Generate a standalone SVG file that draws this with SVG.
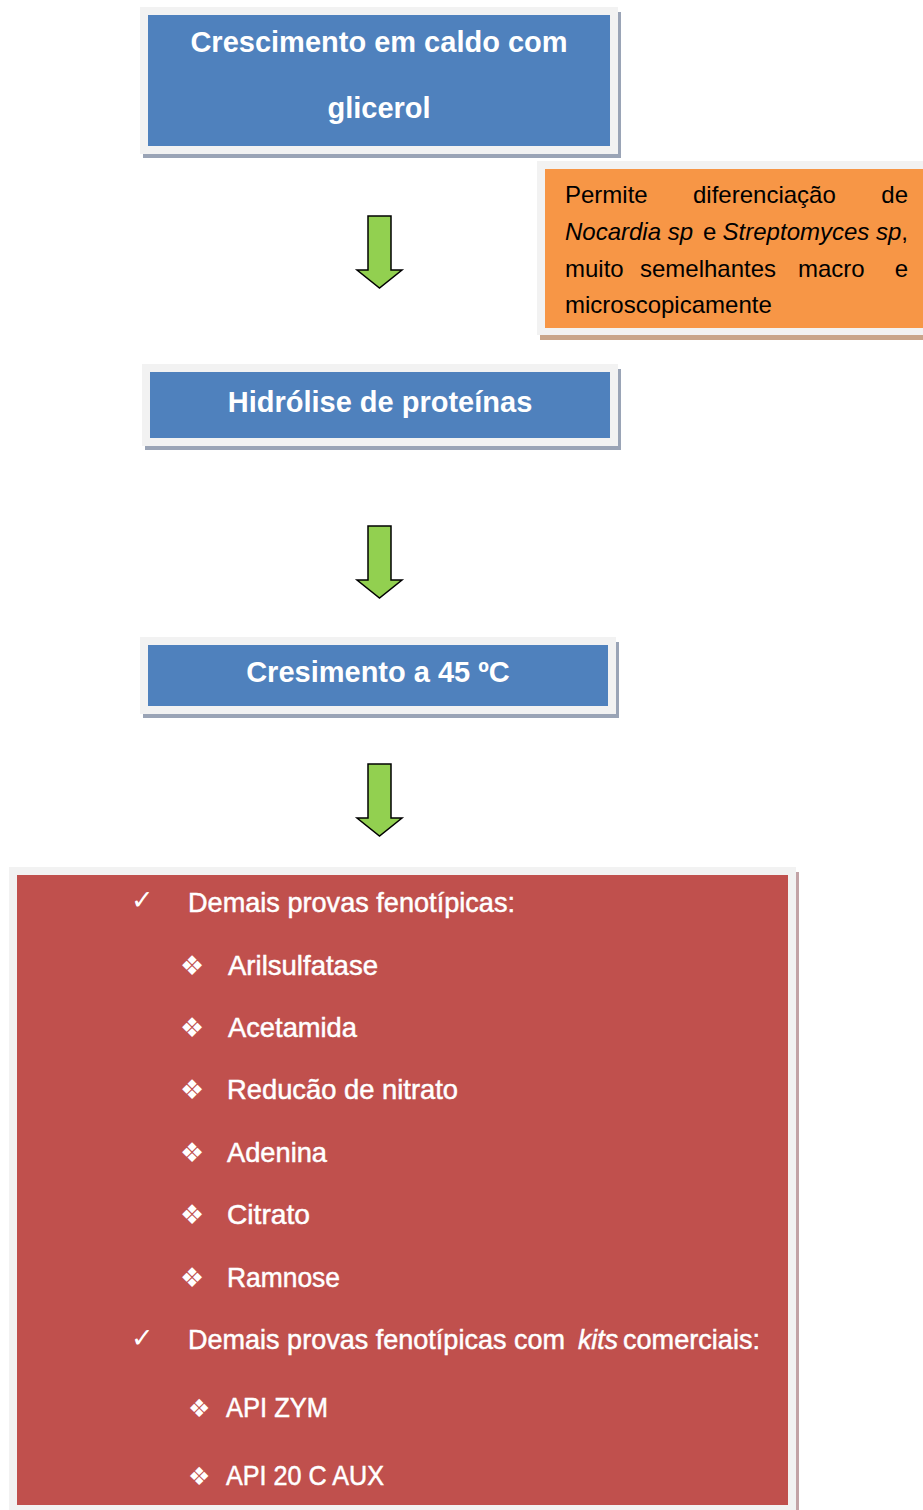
<svg xmlns="http://www.w3.org/2000/svg" width="923" height="1510" viewBox="0 0 923 1510">
<style>
.frame{fill:#f2f2f2}
.blue{fill:#4f81bd}
.orange{fill:#f79646}
.red{fill:#c0504d}
.shb{fill:#9aa4b6}
.sho{fill:#c9a58a}
.shr{fill:#c2a3a6}
.bt{font-family:"Liberation Sans",Arial,sans-serif;font-weight:bold;font-size:29px;fill:#fff;text-anchor:middle}
.ot{font-family:"Liberation Sans",Arial,sans-serif;font-size:24px;fill:#000}
.rt{font-family:"Liberation Sans Narrow","Liberation Sans",Arial,sans-serif;font-size:28px;fill:#fff;stroke:#fff;stroke-width:0.5}
.sym{font-family:"DejaVu Sans",sans-serif;fill:#fff}
.arrow{fill:#92d050;stroke:#000;stroke-width:1.5;stroke-linejoin:miter}
</style>
<defs>
<path id="arr" d="M368,0 H391 V54 H402 L379.5,72 L357,54 H368 Z"/>
</defs>
<rect width="923" height="1510" fill="#fff"/>

<g id="node-crescimento-glicerol">
<rect class="shb" x="143" y="12" width="478" height="146"/>
<rect class="frame" x="140" y="7" width="478" height="147"/>
<rect class="blue" x="148" y="15" width="462" height="131"/>
<text class="bt" x="379" y="52">Crescimento em caldo com</text>
<text class="bt" x="379" y="118">glicerol</text>
</g>

<g id="node-nota">
<rect class="sho" x="540" y="166" width="383" height="174"/>
<rect class="frame" x="537" y="161" width="386" height="174"/>
<rect class="orange" x="545" y="169" width="378" height="159"/>
<text class="ot" y="203"><tspan x="565">Permite</tspan><tspan x="693">diferenciação</tspan></text>
<text class="ot" x="908" y="203" text-anchor="end">de</text>
<text class="ot" y="240"><tspan x="565" font-style="italic">Nocardia sp</tspan><tspan x="703">e</tspan></text>
<text class="ot" x="908" y="240" text-anchor="end"><tspan font-style="italic">Streptomyces sp</tspan>,</text>
<text class="ot" y="277"><tspan x="565">muito</tspan><tspan x="640">semelhantes</tspan><tspan x="798">macro</tspan></text>
<text class="ot" x="908" y="277" text-anchor="end">e</text>
<text class="ot" x="565" y="313">microscopicamente</text>
</g>

<g id="node-hidrolise">
<rect class="shb" x="145" y="369" width="476" height="81"/>
<rect class="frame" x="142" y="364" width="476" height="82"/>
<rect class="blue" x="150" y="372" width="460" height="66"/>
<text class="bt" x="380" y="412">Hidrólise de proteínas</text>
</g>

<g id="node-crescimento-45">
<rect class="shb" x="143" y="642" width="476" height="76"/>
<rect class="frame" x="140" y="637" width="476" height="77"/>
<rect class="blue" x="148" y="645" width="460" height="61"/>
<text class="bt" x="378" y="682">Cresimento a 45 ºC</text>
</g>

<g id="node-provas">
<rect class="shr" x="12" y="872" width="787" height="638"/>
<rect class="frame" x="9" y="867" width="787" height="643"/>
<rect class="red" x="17" y="875" width="771" height="630"/>
<text class="sym" x="131" y="909" font-size="27">✓</text>
<text class="rt" x="188" y="912" textLength="327" lengthAdjust="spacingAndGlyphs">Demais provas fenotípicas:</text>
<text class="sym" x="180" y="975" font-size="27">❖</text>
<text class="rt" x="228" y="975" textLength="150" lengthAdjust="spacingAndGlyphs">Arilsulfatase</text>
<text class="sym" x="180" y="1037" font-size="27">❖</text>
<text class="rt" x="228" y="1037" textLength="129" lengthAdjust="spacingAndGlyphs">Acetamida</text>
<text class="sym" x="180" y="1099" font-size="27">❖</text>
<text class="rt" x="227" y="1099" textLength="231" lengthAdjust="spacingAndGlyphs">Reducão de nitrato</text>
<text class="sym" x="180" y="1162" font-size="27">❖</text>
<text class="rt" x="227" y="1162" textLength="100" lengthAdjust="spacingAndGlyphs">Adenina</text>
<text class="sym" x="180" y="1224" font-size="27">❖</text>
<text class="rt" x="227" y="1224" textLength="83" lengthAdjust="spacingAndGlyphs">Citrato</text>
<text class="sym" x="180" y="1287" font-size="27">❖</text>
<text class="rt" x="227" y="1287" textLength="113" lengthAdjust="spacingAndGlyphs">Ramnose</text>
<text class="sym" x="131" y="1347" font-size="27">✓</text>
<text class="rt" x="188" y="1349" textLength="377" lengthAdjust="spacingAndGlyphs">Demais provas fenotípicas com</text>
<text class="rt" x="578" y="1349" font-style="italic" textLength="40" lengthAdjust="spacingAndGlyphs">kits</text>
<text class="rt" x="623" y="1349" textLength="137" lengthAdjust="spacingAndGlyphs">comerciais:</text>
<text class="sym" x="188" y="1417" font-size="25">❖</text>
<text class="rt" x="226" y="1417" textLength="102" lengthAdjust="spacingAndGlyphs">API ZYM</text>
<text class="sym" x="188" y="1485" font-size="25">❖</text>
<text class="rt" x="226" y="1485" textLength="158" lengthAdjust="spacingAndGlyphs">API 20 C AUX</text>
</g>

<g id="connectors">
<use href="#arr" class="arrow" y="216"/>
<use href="#arr" class="arrow" y="526"/>
<use href="#arr" class="arrow" y="764"/>
</g>
</svg>
